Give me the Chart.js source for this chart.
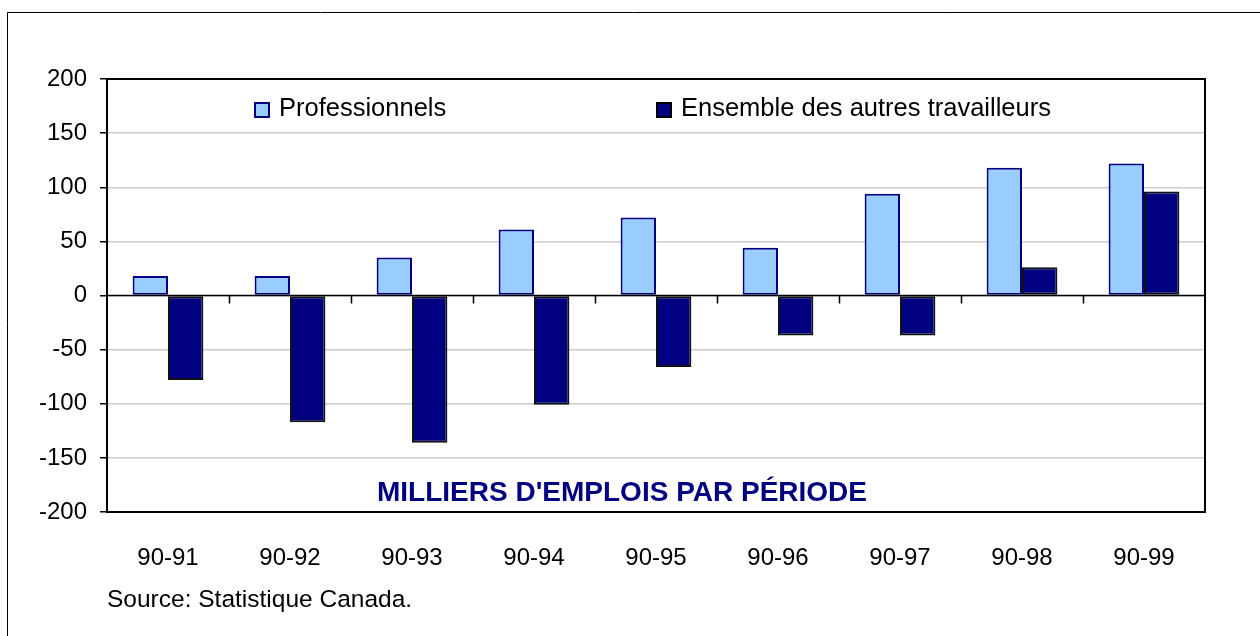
<!DOCTYPE html>
<html>
<head>
<meta charset="utf-8">
<script src="https://cdn.jsdelivr.net/npm/chart.js@4"></script>
<style>
  html, body { margin: 0; padding: 0; background: #fff; }
  canvas { display: block; }
</style>
</head>
<body>
<canvas id="emplois" width="1260" height="636"></canvas>
<script>
var periodes = ['90-91', '90-92', '90-93', '90-94', '90-95', '90-96', '90-97', '90-98', '90-99'];
var professionnels = [18, 18, 35, 61, 72, 44, 94, 118, 122];
var autres = [-78, -117, -136, -101, -66, -37, -37, 26, 96];
var yMin = -200, yMax = 200, yStep = 50;

var police = "'Liberation Sans', Arial, sans-serif";

// frame, plot border, zero line with ticks, legend and inner title
var decor = {
    id: 'decor',
    beforeDraw: function (chart) {
        var ctx = chart.ctx;
        ctx.save();
        ctx.fillStyle = '#fff';
        ctx.fillRect(0, 0, chart.width, chart.height);
        ctx.strokeStyle = '#000';
        ctx.lineWidth = 1;
        ctx.beginPath();
        ctx.moveTo(7.5, chart.height);
        ctx.lineTo(7.5, 12.5);
        ctx.lineTo(chart.width, 12.5);
        ctx.stroke();
        ctx.restore();
    },
    afterDatasetsDraw: function (chart) {
        var ctx = chart.ctx;
        var a = chart.chartArea;
        var x = chart.scales.x;
        var y = chart.scales.y;
        var y0 = y.getPixelForValue(0);
        ctx.save();

        // zero line + ticks between categories
        ctx.strokeStyle = '#000';
        ctx.lineWidth = 1.5;
        ctx.beginPath();
        ctx.moveTo(a.left, y0);
        ctx.lineTo(a.right, y0);
        for (var i = 1; i < periodes.length; i++) {
            var xb = Math.round((x.getPixelForValue(i - 1) + x.getPixelForValue(i)) / 2) + 0.5;
            ctx.moveTo(xb, y0);
            ctx.lineTo(xb, y0 + 8);
        }
        ctx.stroke();

        // plot area border
        ctx.lineWidth = 2;
        ctx.strokeRect(a.left, a.top, a.right - a.left, a.bottom - a.top);

        // legend
        ctx.font = '25.5px ' + police;
        ctx.textBaseline = 'middle';
        ctx.textAlign = 'left';
        var items = [
            { x: 255, ds: chart.data.datasets[0] },
            { x: 657, ds: chart.data.datasets[1] }
        ];
        items.forEach(function (it) {
            ctx.fillStyle = it.ds.backgroundColor;
            ctx.fillRect(it.x, a.top + 24, 14, 14);
            ctx.strokeStyle = it.ds.legendBorder;
            ctx.lineWidth = 2;
            ctx.strokeRect(it.x, a.top + 24, 14, 14);
            ctx.fillStyle = '#000';
            ctx.fillText(it.ds.label, it.x + 24, a.top + 30);
        });

        // title inside the plot
        ctx.font = 'bold 28px ' + police;
        ctx.fillStyle = '#000080';
        ctx.textAlign = 'center';
        ctx.fillText("MILLIERS D'EMPLOIS PAR PÉRIODE", 622, a.bottom - 19);

        // source
        ctx.font = '24.5px ' + police;
        ctx.fillStyle = '#000';
        ctx.textAlign = 'left';
        ctx.fillText('Source: Statistique Canada.', 107, 600);
        ctx.restore();
    }
};

var ctx = document.getElementById('emplois').getContext('2d');
var myChart = new Chart(ctx, {
    type: 'bar',
    data: {
        labels: periodes,
        datasets: [{
            label: 'Professionnels',
            data: professionnels,
            backgroundColor: '#99CCFF',
            borderColor: '#000080',
            legendBorder: '#000080',
            borderWidth: 2,
            borderSkipped: false
        }, {
            label: 'Ensemble des autres travailleurs',
            data: autres,
            backgroundColor: '#000080',
            borderColor: '#111',
            legendBorder: '#000',
            borderWidth: 2,
            borderSkipped: false
        }]
    },
    options: {
        responsive: false,
        animation: false,
        layout: { padding: { left: 0, top: 79, right: 55, bottom: 0 } },
        categoryPercentage: 0.58,
        barPercentage: 1.0,
        plugins: {
            legend: { display: false },
            tooltip: { enabled: false }
        },
        scales: {
            x: {
                grid: { display: false },
                border: { display: false },
                ticks: {
                    color: '#000',
                    padding: 24,
                    maxRotation: 0,
                    font: { family: police, size: 24 }
                },
                afterFit: function (s) { s.height = 124; }
            },
            y: {
                min: yMin,
                max: yMax,
                grid: {
                    color: '#cccccc',
                    lineWidth: 1.5,
                    tickColor: '#000',
                    tickLength: 7
                },
                border: { color: '#000', width: 2 },
                ticks: {
                    stepSize: yStep,
                    color: '#000',
                    padding: 13,
                    font: { family: police, size: 24 }
                },
                afterFit: function (s) { s.width = 107; }
            }
        }
    },
    plugins: [decor]
});
</script>
</body>
</html>
